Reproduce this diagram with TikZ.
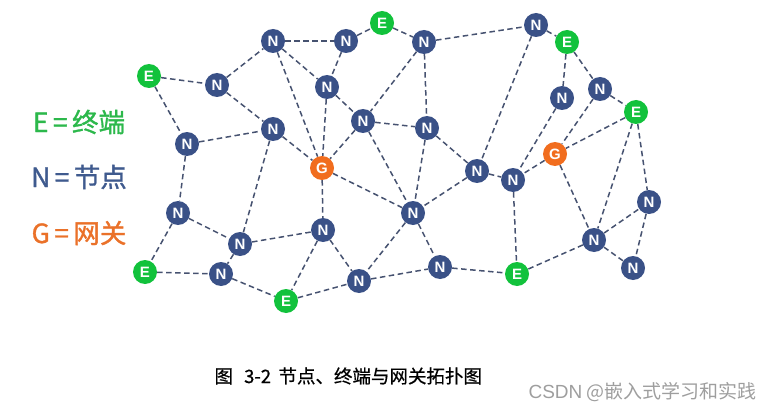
\documentclass[tikz,border=0pt]{standalone}
\usepackage{fontspec}
\setmainfont{Noto Sans CJK SC}
\newfontfamily\cjk{Noto Sans CJK SC}
\newfontfamily\cjkb[FakeBold=1.2]{Noto Sans CJK SC}
\newfontfamily\capfont[FakeBold=0.6]{Noto Sans CJK SC}
\newfontfamily\nodefont{Liberation Sans}
\newfontfamily\wmfont{Liberation Sans}
\usetikzlibrary{backgrounds}
\definecolor{ngreen}{HTML}{12C23C}
\definecolor{nblue}{HTML}{3A5187}
\definecolor{norange}{HTML}{F16D1E}
\definecolor{edgec}{HTML}{465270}
\definecolor{tgreen}{HTML}{2CB84B}
\definecolor{tblue}{HTML}{3F5A8E}
\definecolor{torange}{HTML}{EA7129}
\tikzset{
  nd/.style={circle,inner sep=0pt,minimum size=24pt,text=white,font=\nodefont\bfseries\fontsize{15}{15}\selectfont},
  en/.style={nd,fill=ngreen},
  nn/.style={nd,fill=nblue},
  gn/.style={nd,fill=norange},
  link/.style={draw=edgec,line width=1.5pt,dash pattern=on 5.5pt off 3.5pt},
  legend/.style={font=\cjkb\fontsize{26.5}{26.5}\selectfont,anchor=center}
}
\begin{document}
\begin{tikzpicture}[x=1pt,y=-1pt]
\useasboundingbox (0,0) rectangle (773,409);
% nodes
\node[en] (E1) at (149,76) {E};
\node[nn] (N1) at (217,85) {N};
\node[nn] (N2) at (273,41) {N};
\node[nn] (N3) at (346,41) {N};
\node[en] (E2) at (382,23) {E};
\node[nn] (N4) at (424,42) {N};
\node[nn] (N5) at (536,25) {N};
\node[en] (E3) at (567,42) {E};
\node[nn] (N6) at (327,87) {N};
\node[nn] (N7) at (187,144) {N};
\node[nn] (N8) at (273,129) {N};
\node[gn] (G1) at (322,168) {G};
\node[nn] (N9) at (363,121) {N};
\node[nn] (N10) at (427,128) {N};
\node[nn] (N11) at (562,98) {N};
\node[nn] (N12) at (600,89) {N};
\node[en] (E4) at (636,112) {E};
\node[gn] (G2) at (555,154) {G};
\node[nn] (N13) at (477,171) {N};
\node[nn] (N14) at (513,180) {N};
\node[nn] (N15) at (178,213) {N};
\node[nn] (N16) at (240,244) {N};
\node[nn] (N17) at (323,230) {N};
\node[nn] (N18) at (413,213) {N};
\node[en] (E5) at (145,272) {E};
\node[nn] (N19) at (221,274) {N};
\node[en] (E6) at (286,301) {E};
\node[nn] (N20) at (359,281) {N};
\node[nn] (N21) at (440,267) {N};
\node[en] (E7) at (517,274) {E};
\node[nn] (N22) at (594,240) {N};
\node[nn] (N23) at (649,202) {N};
\node[nn] (N24) at (633,268) {N};
% edges
\begin{scope}[on background layer]
\foreach \a/\b in {E1/N1,E1/N7,N1/N2,N1/N8,N2/N3,N2/N6,N2/G1,N3/E2,N3/N6,N6/G1,N6/N9,N7/N8,N8/G1,
  E2/N4,N4/N5,N4/N9,N4/N10,N9/N10,N9/G1,N9/N18,N10/N18,N10/N13,N5/N13,N5/E3,E3/N11,E3/N12,
  N11/N14,N12/G2,N12/E4,E4/G2,E4/N22,E4/N23,G2/N14,G2/N22,N22/N23,N22/N24,N23/N24,N22/E7,
  N13/N14,N13/N18,N14/E7,N18/N21,N18/N20,N20/N21,N21/E7,G1/N18,G1/N17,N15/N16,N15/E5,E5/N19,
  N16/N19,N16/N17,N17/E6,N17/N20,N19/E6,E6/N20,N8/N16,N7/N15}
  \draw[link] (\a) -- (\b);
\end{scope}
% legend
\node[legend,text=tgreen] (L1) at (79,122) {E\,=\,终端};
\node[legend,text=tblue] (L2) at (79,177) {N\,=\,节点};
\node[legend,text=torange] (L3) at (79,233) {G\,=\,网关};
% caption
\node[font=\capfont\fontsize{18.5}{18.5}\selectfont,anchor=west] (cap) at (211,376) {图\hspace{0.6em}3-2\hspace{0.4em}节点、终端与网关拓扑图};
\node[font=\cjk\fontsize{19}{19}\selectfont,text=black!38,anchor=west] (wm) at (525,392) {{\wmfont CSDN} @嵌入式学习和实践};
\end{tikzpicture}
\end{document}
